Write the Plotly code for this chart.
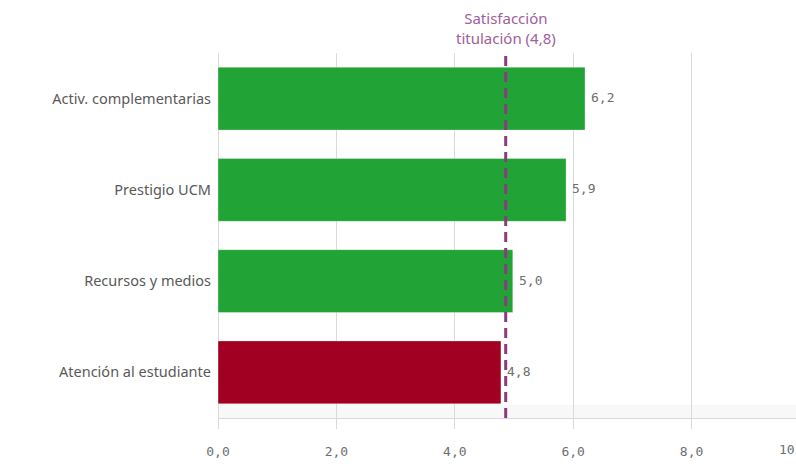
import plotly.graph_objects as go

categories = ["Activ. complementarias", "Prestigio UCM", "Recursos y medios", "Atención al estudiante"]
values = [6.2, 5.88, 4.98, 4.78]
value_labels = ["6,2", "5,9", "5,0", "4,8"]
bar_colors = ["#21a336", "#21a336", "#21a336", "#a10022"]
reference_value = 4.86
reference_label = "Satisfacción<br>titulación (4,8)"
x_ticks = [0, 2, 4, 6, 8]
last_tick_label = "10,0"
x_max = 9.764

fig = go.Figure()
fig.add_trace(go.Bar(
    y=categories, x=values, orientation="h",
    marker=dict(color=bar_colors, line=dict(width=1, color="rgba(255,255,255,0.35)")),
    hoverinfo="skip",
))

for cat, val, lab in zip(categories, values, value_labels):
    fig.add_annotation(x=val, y=cat, text=lab, showarrow=False, xanchor="left",
                       xshift=4, yshift=1,
                       font=dict(family="DejaVu Sans Mono", size=13, color="#6e6e6e"))

# light band above the axis line
fig.add_shape(type="rect", xref="paper", yref="paper", x0=0, x1=1, y0=0, y1=0.036,
              fillcolor="#f8f8f8", line=dict(width=0), layer="below")

fig.add_shape(type="line", xref="x", yref="paper", x0=reference_value, x1=reference_value,
              y0=0, y1=1.003, line=dict(color="#8b3a7f", width=3, dash="10px,6px"))

fig.add_annotation(xref="x", yref="paper", x=reference_value, y=1, yshift=3,
                   text=reference_label, showarrow=False, xanchor="center", yanchor="bottom",
                   font=dict(family="Noto Sans", size=15, color="#a0609a"))

# last axis label, partly outside the visible area as in the original
fig.add_annotation(xref="paper", yref="paper", x=0.967, y=0, yshift=-22,
                   text=last_tick_label, showarrow=False, xanchor="left", yanchor="top",
                   font=dict(family="DejaVu Sans Mono", size=13, color="#6e6e6e"))

fig.update_layout(
    width=796, height=468, autosize=False,
    margin=dict(l=218, r=0, t=53, b=50),
    paper_bgcolor="white", plot_bgcolor="white",
    separators=",.",
    bargap=0.31,
    showlegend=False,
    xaxis=dict(range=[0, x_max], tickvals=x_ticks, tickformat=".1f",
               showgrid=True, gridcolor="#d9d9d9", gridwidth=1,
               zeroline=True, zerolinecolor="#d9d9d9", zerolinewidth=1,
               showline=True, linecolor="#d9d9d9", linewidth=1,
               ticks="outside", ticklen=10, tickcolor="#d9d9d9",
               ticklabelstandoff=11,
               tickfont=dict(family="DejaVu Sans Mono", size=13, color="#6e6e6e"),
               fixedrange=True),
    yaxis=dict(autorange="reversed", showgrid=False, showline=False, ticks="",
               ticklabelstandoff=6,
               tickfont=dict(family="Noto Sans", size=14.5, color="#595959"),
               fixedrange=True),
)

fig.write_html("out.html", config={"displayModeBar": False},
               post_script="document.body.style.margin='0';document.body.style.overflow='hidden';")
